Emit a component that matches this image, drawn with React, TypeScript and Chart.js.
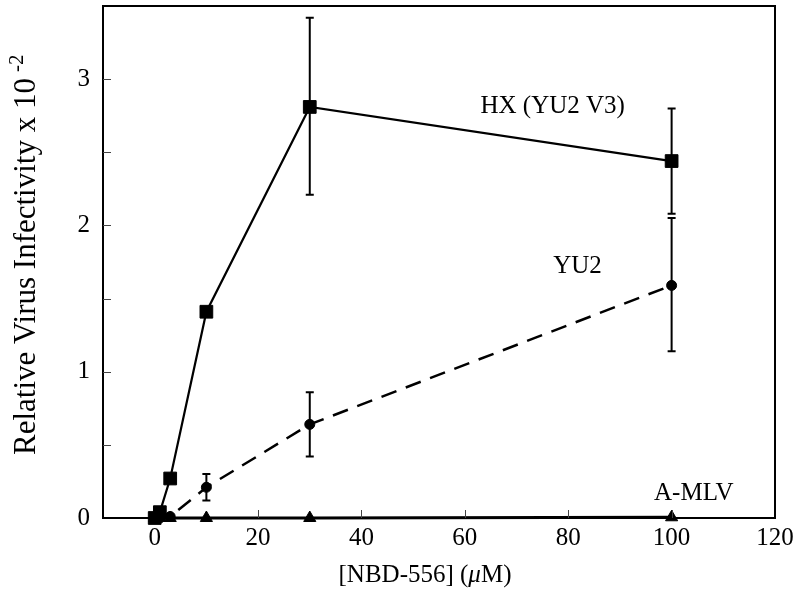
import React, { useEffect, useRef } from "react";
import { Chart, registerables } from "chart.js";

Chart.register(...registerables);

// ---- data ----
const concentrations = [0, 1, 3, 10, 30, 100];
const hxValues = [0, 0.04, 0.27, 1.41, 2.81, 2.44];
const yu2Values = [0, 0, 0.01, 0.21, 0.64, 1.59];
const amlvValues = [0, 0, 0, 0, 0, 0.005];

// error bars
const hxErrX = [30, 100];
const hxErrLow = [2.21, 2.08];
const hxErrHigh = [3.42, 2.8];
const yu2ErrX = [10, 30, 100];
const yu2ErrLow = [0.12, 0.42, 1.14];
const yu2ErrHigh = [0.3, 0.86, 2.05];

const xTickValues = [0, 20, 40, 60, 80, 100, 120];
const yTickValues = [0, 1, 2, 3];
const yMinorTicks = [0.5, 1, 1.5, 2, 2.5, 3];

const seriesNames = ["HX (YU2 V3)", "YU2", "A-MLV"];
const nameAnchorX = [77, 81.8, 104.3];
const nameAnchorY = [2.81, 1.72, 0.17];

const FONT = "'Liberation Serif', 'Times New Roman', serif";

const App = () => {
  const ref = useRef<HTMLCanvasElement | null>(null);

  useEffect(() => {
    if (!ref.current) return;

    const pts = (ys: number[]) => concentrations.map((x, i) => ({ x, y: ys[i] }));

    const errorBars = [
      ...hxErrX.map((x, i) => ({ x, lo: hxErrLow[i], hi: hxErrHigh[i] })),
      ...yu2ErrX.map((x, i) => ({ x, lo: yu2ErrLow[i], hi: yu2ErrHigh[i] })),
    ];

    const decorPlugin = {
      id: "decor",
      beforeDatasetsDraw(chart: any) {
        const { ctx, scales } = chart;
        const xs = scales.x, ys = scales.y;
        ctx.save();
        ctx.strokeStyle = "#000";
        ctx.lineWidth = 2;
        errorBars.forEach((e) => {
          const px = xs.getPixelForValue(e.x);
          const pl = ys.getPixelForValue(e.lo);
          const ph = ys.getPixelForValue(e.hi);
          ctx.beginPath();
          ctx.moveTo(px, pl);
          ctx.lineTo(px, ph);
          ctx.moveTo(px - 4, pl);
          ctx.lineTo(px + 4, pl);
          ctx.moveTo(px - 4, ph);
          ctx.lineTo(px + 4, ph);
          ctx.stroke();
        });
        ctx.restore();
      },
      afterDraw(chart: any) {
        const { ctx, chartArea, scales } = chart;
        const xs = scales.x, ys = scales.y;
        ctx.save();
        // frame
        ctx.strokeStyle = "#000";
        ctx.lineWidth = 2;
        ctx.strokeRect(chartArea.left, chartArea.top, chartArea.right - chartArea.left, chartArea.bottom - chartArea.top);
        // inner ticks
        ctx.lineWidth = 1;
        ctx.strokeStyle = "#444";
        ctx.beginPath();
        yMinorTicks.forEach((v) => {
          const py = Math.round(ys.getPixelForValue(v)) + 0.5;
          ctx.moveTo(chartArea.left, py);
          ctx.lineTo(chartArea.left + 8, py);
        });
        xTickValues.slice(1, -1).forEach((v) => {
          const px = Math.round(xs.getPixelForValue(v)) + 0.5;
          ctx.moveTo(px, chartArea.bottom);
          ctx.lineTo(px, chartArea.bottom - 8);
        });
        ctx.stroke();

        // series names
        ctx.fillStyle = "#000";
        ctx.font = `25px ${FONT}`;
        ctx.textAlign = "center";
        ctx.textBaseline = "middle";
        seriesNames.forEach((n, i) => {
          ctx.fillText(n, xs.getPixelForValue(nameAnchorX[i]), ys.getPixelForValue(nameAnchorY[i]));
        });

        // x axis title with italic mu
        const cx = 425;
        const ty = 575;
        const p1 = "[NBD-556] (";
        const p2 = "\u03bc";
        const p3 = "M)";
        ctx.textAlign = "left";
        ctx.font = `25px ${FONT}`;
        const w1 = ctx.measureText(p1).width;
        const w3 = ctx.measureText(p3).width;
        ctx.font = `italic 25px ${FONT}`;
        const w2 = ctx.measureText(p2).width;
        let sx = cx - (w1 + w2 + w3) / 2;
        ctx.font = `25px ${FONT}`;
        ctx.fillText(p1, sx, ty);
        sx += w1;
        ctx.font = `italic 25px ${FONT}`;
        ctx.fillText(p2, sx, ty);
        sx += w2;
        ctx.font = `25px ${FONT}`;
        ctx.fillText(p3, sx, ty);

        // y axis title with superscript
        ctx.translate(35, 455);
        ctx.rotate(-Math.PI / 2);
        ctx.textBaseline = "alphabetic";
        ctx.textAlign = "left";
        ctx.font = `31px ${FONT}`;
        const main = "Relative Virus Infectivity x 10";
        ctx.fillText(main, 0, 0);
        const mw = ctx.measureText(main).width;
        ctx.font = `21px ${FONT}`;
        ctx.fillText("-2", mw + 6, -12);
        ctx.restore();
      },
    };

    const chart = new Chart(ref.current, {
      type: "scatter",
      data: {
        datasets: [
          {
            label: seriesNames[0],
            data: pts(hxValues),
            showLine: true,
            borderColor: "#000",
            backgroundColor: "#000",
            borderWidth: 2.2,
            pointStyle: "rect",
            pointRadius: 9,
            pointBorderWidth: 1,
            clip: false,
          },
          {
            label: seriesNames[1],
            data: pts(yu2Values),
            showLine: true,
            borderColor: "#000",
            backgroundColor: "#000",
            borderWidth: 2.5,
            borderDash: [16, 10],
            pointStyle: "circle",
            pointRadius: 5,
            pointBorderWidth: 1,
            clip: false,
          },
          {
            label: seriesNames[2],
            data: pts(amlvValues),
            showLine: true,
            borderColor: "#000",
            backgroundColor: "#000",
            borderWidth: 3,
            pointStyle: "triangle",
            pointRadius: 7,
            pointBorderWidth: 1,
            clip: false,
          },
        ],
      },
      options: {
        animation: false,
        responsive: false,
        devicePixelRatio: 1,
        layout: { autoPadding: false, padding: { top: 6, right: 25, left: 0, bottom: 0 } },
        plugins: { legend: { display: false }, tooltip: { enabled: false } },
        scales: {
          x: {
            type: "linear",
            min: -10,
            max: 120,
            afterBuildTicks: (s: any) => {
              s.ticks = xTickValues.map((v) => ({ value: v }));
            },
            afterFit: (s: any) => {
              s.height = 72;
              s.paddingLeft = 0;
              s.paddingRight = 0;
            },
            grid: { display: false, drawTicks: false },
            border: { display: false },
            ticks: { color: "#000", padding: 5, font: { family: FONT, size: 25 }, maxRotation: 0 },
          },
          y: {
            type: "linear",
            min: 0,
            max: 3.5,
            afterBuildTicks: (s: any) => {
              s.ticks = yTickValues.map((v) => ({ value: v }));
            },
            afterFit: (s: any) => {
              s.width = 103;
              s.paddingTop = 0;
              s.paddingBottom = 0;
            },
            grid: { display: false, drawTicks: false },
            border: { display: false },
            ticks: { color: "#000", padding: 13, font: { family: FONT, size: 25 } },
          },
        },
      },
      plugins: [decorPlugin],
    } as any);

    return () => chart.destroy();
  }, []);

  return (
    <div style={{ position: "absolute", left: 0, top: 0, width: 800, height: 590, background: "#fff" }}>
      <canvas ref={ref} width={800} height={590} />
    </div>
  );
};

export default App;
